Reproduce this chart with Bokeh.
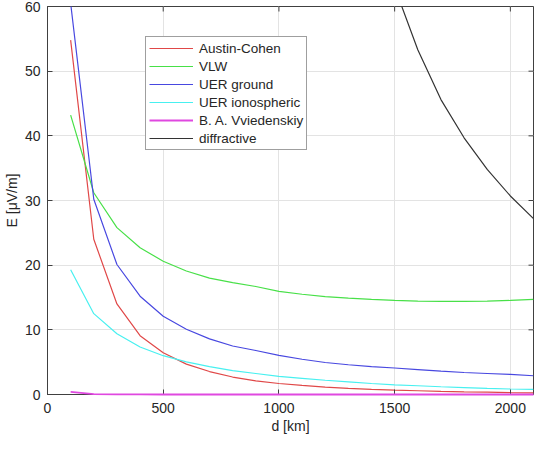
from bokeh.plotting import figure
from bokeh.models import Range1d, FixedTicker, Legend, LegendItem
from bokeh.embed import file_html
from bokeh.resources import INLINE

# distances [km]
d = [100, 200, 300, 400, 500, 600, 700, 800, 900, 1000, 1100,
     1200, 1300, 1400, 1500, 1600, 1700, 1800, 1900, 2000, 2100]

austin_cohen = [54.8, 24.0, 14.0, 9.1, 6.45, 4.7, 3.55, 2.7, 2.1, 1.7, 1.4,
                1.15, 0.95, 0.8, 0.68, 0.58, 0.49, 0.42, 0.36, 0.3, 0.26]
vlw = [43.2, 31.2, 25.8, 22.7, 20.6, 19.1, 18.0, 17.3, 16.7, 15.95, 15.5,
       15.15, 14.9, 14.7, 14.55, 14.45, 14.4, 14.4, 14.45, 14.55, 14.7]
uer_ground = [60.5, 30.2, 20.1, 15.2, 12.1, 10.1, 8.6, 7.5, 6.8, 6.05, 5.45,
              4.95, 4.6, 4.3, 4.1, 3.85, 3.6, 3.4, 3.25, 3.1, 2.9]
uer_iono = [19.3, 12.5, 9.4, 7.35, 6.0, 5.05, 4.3, 3.7, 3.25, 2.8, 2.5,
            2.2, 1.95, 1.7, 1.5, 1.35, 1.2, 1.07, 0.95, 0.85, 0.8]
vviedenskiy = [0.42, 0.05, 0.01, 0.005, 0.003, 0.002, 0.001, 0.001, 0.001, 0.0, 0.0,
               0.0, 0.0, 0.0, 0.0, 0.0, 0.0, 0.0, 0.0, 0.0, 0.0]
d_diff = [1500, 1600, 1700, 1800, 1900, 2000, 2100]
diffractive = [63.0, 53.3, 45.6, 39.7, 34.8, 30.7, 27.2]

x_ticks = [0, 500, 1000, 1500, 2000]
y_ticks = [0, 10, 20, 30, 40, 50, 60]
x_min, x_max = 0, 2100
y_min, y_max = 0, 60

FONT = "Liberation Sans"
TXT = "#262626"
AXC = "#404040"

W, H = 534, 437
BL, BR, BT, BB = 44, 1, 6, 43

p = figure(width=W, height=H, output_backend="svg", toolbar_location=None,
           x_range=Range1d(x_min, x_max), y_range=Range1d(y_min, y_max),
           min_border_left=BL, min_border_right=BR, min_border_top=BT, min_border_bottom=BB)
p.background_fill_color = "white"
p.border_fill_color = "white"
p.outline_line_color = AXC
p.outline_line_width = 1

p.xaxis.ticker = FixedTicker(ticks=x_ticks)
p.yaxis.ticker = FixedTicker(ticks=y_ticks)
for ax in (p.xaxis[0], p.yaxis[0]):
    ax.major_tick_in = 5
    ax.major_tick_out = 0
    ax.minor_tick_in = 0
    ax.minor_tick_out = 0
    ax.axis_line_color = AXC
    ax.major_tick_line_color = AXC
    ax.major_label_text_font = FONT
    ax.major_label_text_font_size = "14px"
    ax.major_label_text_color = TXT
    ax.axis_label_text_font = FONT
    ax.axis_label_text_font_size = "14px"
    ax.axis_label_text_font_style = "normal"
    ax.axis_label_text_color = TXT
p.xaxis.axis_label = "d [km]"
p.yaxis.axis_label = "E [\u03bcV/m]"
p.xaxis.major_label_standoff = 8
p.yaxis.major_label_standoff = 7
p.xaxis.axis_label_standoff = 2
p.yaxis.axis_label_standoff = 2

p.xgrid.ticker = FixedTicker(ticks=x_ticks)
p.ygrid.ticker = FixedTicker(ticks=y_ticks)
p.grid.grid_line_color = "#e3e3e3"
p.grid.grid_line_width = 1

# mirrored inward ticks on top and right edges (box on)
tick_px = 5
dx = tick_px * (x_max - x_min) / (W - BL - BR)
dy = tick_px * (y_max - y_min) / (H - BT - BB)
p.segment(x0=x_ticks, y0=[y_max] * len(x_ticks), x1=x_ticks, y1=[y_max - dy] * len(x_ticks),
          line_color=AXC, line_width=1)
p.segment(x0=[x_max] * len(y_ticks), y0=y_ticks, x1=[x_max - dx] * len(y_ticks), y1=y_ticks,
          line_color=AXC, line_width=1)

lw = 1.2
r1 = p.line(d, austin_cohen, line_color="#e04848", line_width=lw)
r2 = p.line(d, vlw, line_color="#48e048", line_width=lw)
r3 = p.line(d, uer_ground, line_color="#4848e0", line_width=lw)
r4 = p.line(d, uer_iono, line_color="#48f0f0", line_width=lw)
r5 = p.line(d, vviedenskiy, line_color="#e048e0", line_width=lw + 0.6)
r5.level = "overlay"
r6 = p.line(d_diff, diffractive, line_color="#333333", line_width=lw)

legend = Legend(items=[
    LegendItem(label="Austin-Cohen", renderers=[r1]),
    LegendItem(label="VLW", renderers=[r2]),
    LegendItem(label="UER ground", renderers=[r3]),
    LegendItem(label="UER ionospheric", renderers=[r4]),
    LegendItem(label="B. A. Vviedenskiy", renderers=[r5]),
    LegendItem(label="diffractive", renderers=[r6]),
], location=(98, 244))
legend.label_text_font = FONT
legend.label_text_font_size = "13.5px"
legend.label_text_color = TXT
legend.glyph_width = 44
legend.glyph_height = 16
legend.label_height = 16
legend.spacing = 2
legend.padding = 3
legend.margin = 0
legend.label_standoff = 6
legend.border_line_color = AXC
legend.border_line_width = 1
legend.background_fill_color = "white"
legend.background_fill_alpha = 1
p.add_layout(legend, "center")

open("out.html", "w").write(file_html(p, INLINE))
